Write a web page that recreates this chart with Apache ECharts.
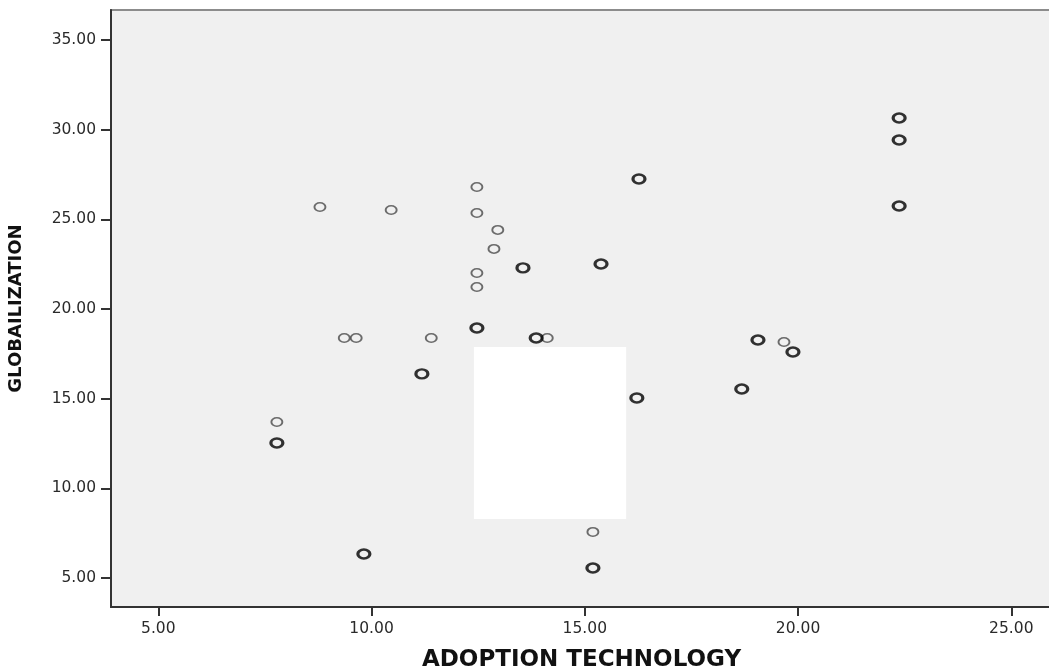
<!DOCTYPE html>
<html>
<head>
<meta charset="utf-8">
<script src="https://cdn.jsdelivr.net/npm/echarts@6/dist/echarts.min.js"></script>
<style>
html,body{margin:0;padding:0;background:#fff;}
#c{width:1049px;height:668px;}
</style>
</head>
<body>
<div id="c"></div>
<script>
// Single (lighter) observations: [adoption technology, globalization]
var thinPoints = [
  [8.79, 25.69], [10.46, 25.52], [12.47, 26.80], [12.47, 25.35],
  [12.96, 24.41], [12.87, 23.35], [12.47, 22.01], [12.47, 21.23],
  [9.36, 18.38], [9.64, 18.38], [11.40, 18.38], [14.12, 18.38],
  [7.78, 13.70], [15.19, 7.57], [19.67, 18.16]
];
// Overlapping (darker) observations
var boldPoints = [
  [12.47, 18.94], [13.55, 22.29], [15.38, 22.51], [16.27, 27.25],
  [13.86, 18.38], [11.18, 16.38], [7.78, 12.53], [9.82, 6.34],
  [15.19, 5.56], [16.22, 15.04], [18.68, 15.54], [19.06, 18.27],
  [19.88, 17.60], [22.37, 30.65], [22.37, 29.42], [22.37, 25.74]
];
var xTicks = [5, 10, 15, 20, 25];
var yTicks = [5, 10, 15, 20, 25, 30, 35];
var xTitle = 'ADOPTION TECHNOLOGY';
var yTitle = 'GLOBAILIZATION';
// blank (white) box covering part of the plot, in data units
var blankBox = [[12.40, 17.88], [15.97, 8.29]];

var chart = echarts.init(document.getElementById('c'), null, {renderer: 'canvas'});
var labelStyle = {color: '#2a2a2a', fontFamily: 'DejaVu Sans', fontSize: 15.5};
chart.setOption({
  animation: false,
  backgroundColor: '#fff',
  grid: {
    left: 111, top: 10, right: -3, bottom: 61,
    outerBoundsMode: 'none', containLabel: false,
    show: true, backgroundColor: '#f0f0f0', borderColor: '#8c8c8c', borderWidth: 2
  },
  xAxis: {
    type: 'value', min: 3.891, max: 25.954,
    name: xTitle, nameLocation: 'middle', nameGap: 42,
    nameTextStyle: {fontFamily: 'DejaVu Sans', fontWeight: 'bold', fontSize: 23, color: '#111'},
    splitLine: {show: false},
    axisLine: {show: true, onZero: false, lineStyle: {color: '#333', width: 2}},
    axisTick: {show: true, inside: false, length: 9, lineStyle: {color: '#333', width: 2}, customValues: xTicks},
    axisLabel: Object.assign({margin: 14, customValues: xTicks, formatter: function (v) { return v.toFixed(2); }}, labelStyle)
  },
  yAxis: {
    type: 'value', min: 3.383, max: 36.67,
    name: yTitle, nameLocation: 'middle', nameGap: 86, nameRotate: 90,
    nameTextStyle: {fontFamily: 'DejaVu Sans', fontWeight: 'bold', fontSize: 18, color: '#111'},
    splitLine: {show: false},
    axisLine: {show: true, onZero: false, lineStyle: {color: '#333', width: 2}},
    axisTick: {show: true, inside: false, length: 10, lineStyle: {color: '#333', width: 2}, customValues: yTicks},
    axisLabel: Object.assign({margin: 15, customValues: yTicks, formatter: function (v) { return v.toFixed(2); }}, labelStyle)
  },
  series: [
    {
      type: 'scatter', data: thinPoints, symbol: 'circle', symbolSize: [11, 8.5],
      itemStyle: {color: 'rgba(0,0,0,0)', borderColor: '#4a4a4a', borderWidth: 1.7},
      markArea: {
        silent: true,
        itemStyle: {color: '#ffffff', opacity: 1},
        data: [[{coord: blankBox[0]}, {coord: blankBox[1]}]]
      }
    },
    {
      type: 'scatter', data: boldPoints, symbol: 'circle', symbolSize: [12, 9],
      itemStyle: {color: 'rgba(0,0,0,0)', borderColor: '#000', borderWidth: 2.8}
    }
  ]
});
</script>
</body>
</html>
